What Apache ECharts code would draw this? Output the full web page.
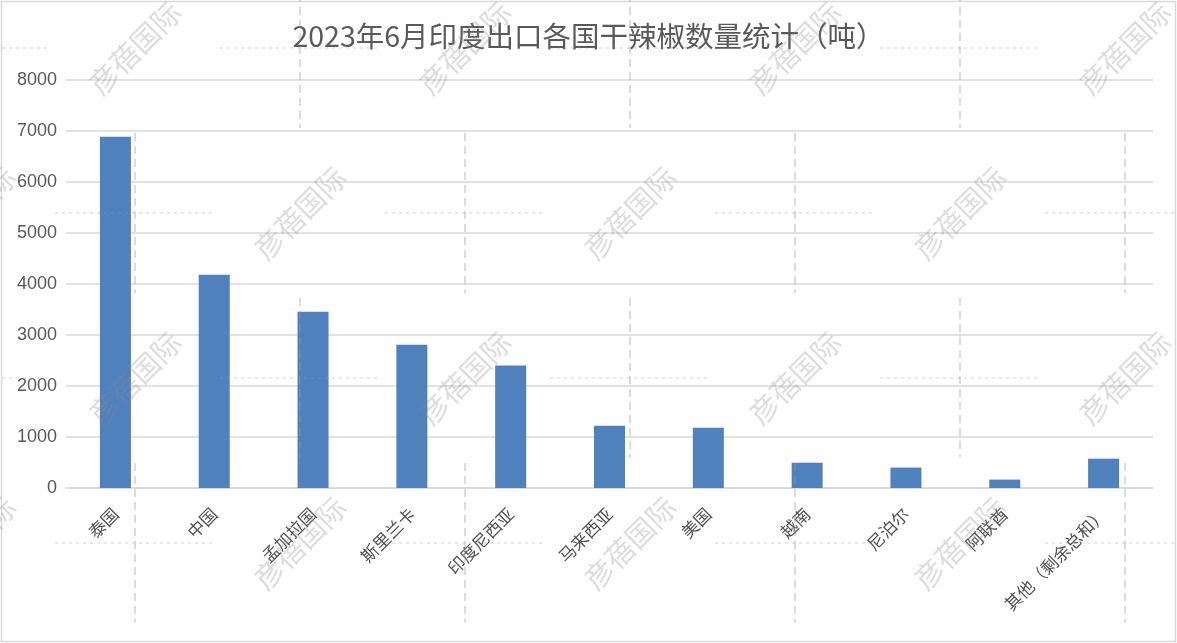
<!DOCTYPE html>
<html>
<head>
<meta charset="utf-8">
<script src="https://cdn.jsdelivr.net/npm/echarts@6/dist/echarts.min.js"></script>
<style>
html,body{margin:0;padding:0;background:#fff;}
#chart{width:1177px;height:643px;}
</style>
</head>
<body>
<div id="chart"></div>
<script>
const titleText = '2023年6月印度出口各国干辣椒数量统计（吨）';
const categories = ['泰国','中国','孟加拉国','斯里兰卡','印度尼西亚','马来西亚','美国','越南','尼泊尔','阿联酋','其他（剩余总和）'];
const values = [6885, 4180, 3455, 2810, 2400, 1220, 1180, 495, 400, 165, 575];
const yTicks = [0, 1000, 2000, 3000, 4000, 5000, 6000, 7000, 8000];
const watermarkText = '彦蓓国际';

const chart = echarts.init(document.getElementById('chart'), null, {renderer: 'canvas'});

// decorative watermark tiles (not data)
const graphics = [];
graphics.push({type:'rect', shape:{x:1.5, y:1.5, width:1174, height:640}, style:{fill:'none', stroke:'#d9d9d9', lineWidth:1.5}, z:0, silent:true});
const rowsY = [48, 213, 378, 543];
rowsY.forEach(function(ry, i){
  const crossX0 = (i % 2 === 0) ? -30 : 135;
  const textX0 = (i % 2 === 0) ? 135 : -30;
  for (let k = 0; k < 5; k++) {
    const cx = crossX0 + 330 * k;
    graphics.push({type:'line', shape:{x1:cx-80, y1:ry, x2:cx+80, y2:ry}, style:{stroke:'rgba(150,150,150,0.45)', lineWidth:1, lineDash:[3,4]}, z:100, silent:true});
    graphics.push({type:'line', shape:{x1:cx, y1:ry-80, x2:cx, y2:ry+80}, style:{stroke:'rgba(150,150,150,0.45)', lineWidth:1.5, lineDash:[8,5]}, z:100, silent:true});
    const tx = textX0 + 330 * k;
    graphics.push({type:'text', x:tx, y:ry, rotation:Math.PI/4, style:{text:watermarkText, fontSize:29, fontFamily:'Noto Sans CJK SC', fill:'rgba(140,140,140,0.3)', align:'center', verticalAlign:'middle'}, z:100, silent:true});
  }
});

chart.setOption({
  animation: false,
  backgroundColor: '#fff',
  title: {
    text: titleText,
    left: 'center',
    top: 17,
    textStyle: {fontFamily:'Noto Sans CJK SC', fontSize:28.5, fontWeight:'normal', color:'#595959'}
  },
  grid: {left:66, right:24, top:80, bottom:155, containLabel:false},
  xAxis: {
    type: 'category',
    data: categories,
    axisLine: {show:true, lineStyle:{color:'#d9d9d9', width:1.5}},
    axisTick: {show:false},
    axisLabel: {rotate:45, interval:0, margin:23, fontSize:17, color:'#505050', fontFamily:'Noto Sans CJK SC'}
  },
  yAxis: {
    type: 'value',
    min: yTicks[0],
    max: yTicks[yTicks.length-1],
    interval: 1000,
    axisLine: {show:false},
    axisTick: {show:false},
    splitLine: {lineStyle:{color:'#d9d9d9', width:1.5}},
    axisLabel: {fontSize:18, color:'#595959', margin:9, fontFamily:'Liberation Sans', formatter: function(v){ return String(v); }}
  },
  series: [{
    type: 'bar',
    data: values,
    barWidth: 31,
    itemStyle: {color:'#4F81BD'}
  }],
  graphic: graphics
});
</script>
</body>
</html>
